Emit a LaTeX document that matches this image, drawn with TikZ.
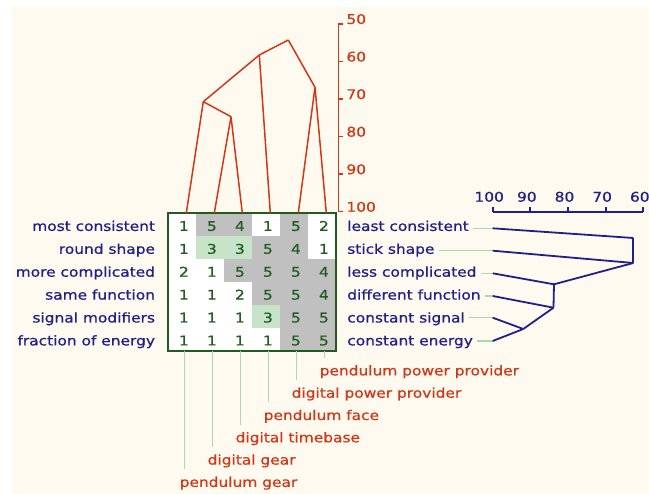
\documentclass[tikz,border=0pt]{standalone}
\usepackage{fontspec}
\setmainfont{DejaVu Sans}[FakeStretch=1.15, FakeBold=0.8]
\usetikzlibrary{matrix}
\usetikzlibrary{positioning}

\definecolor{paper}{RGB}{255,250,240}
\definecolor{navy}{RGB}{32,32,136}
\definecolor{rust}{RGB}{208,56,24}
\definecolor{forest}{RGB}{32,92,32}
\definecolor{shade}{RGB}{192,192,192}
\definecolor{mint}{RGB}{200,228,200}
\definecolor{leaf}{RGB}{176,214,176}

\tikzset{
  txt/.style={font=\fontsize{13.4}{16}\selectfont, text height=12.5pt, text depth=0pt, inner sep=0pt},
  cell/.style={txt, text=forest, minimum width=28pt, minimum height=22.9pt, execute at begin node=\kern4pt},
  high/.style={fill=shade},
  med/.style={fill=mint},
  redline/.style={rust, line width=1.5pt},
  blueline/.style={navy, line width=1.8pt},
  leader/.style={leaf, line width=1.2pt},
}

\begin{document}
\begin{tikzpicture}[x=1pt,y=-1pt]
  \fill[white] (0,0) rectangle (649,494);
  \fill[paper] (12,7) rectangle (649,494);
  \useasboundingbox (0,0) rectangle (649,494);

  \matrix (m) [matrix of nodes, anchor=north west, inner sep=0pt, fill=white,
               nodes={cell}, column sep=0pt, row sep=0pt] at (167.7,213)
  {
    1 & |[high]| 5 & |[high]| 4 & 1 & |[high]| 5 & 2 \\
    1 & |[med]| 3 & |[med]| 3 & |[high]| 5 & |[high]| 4 & 1 \\
    2 & 1 & |[high]| 5 & |[high]| 5 & |[high]| 5 & |[high]| 4 \\
    1 & 1 & 2 & |[high]| 5 & |[high]| 5 & |[high]| 4 \\
    1 & 1 & 1 & |[med]| 3 & |[high]| 5 & |[high]| 5 \\
    1 & 1 & 1 & 1 & |[high]| 5 & |[high]| 5 \\};
  \draw[forest, line width=2pt] (m.north west) rectangle (m.south east);

  % row labels
  \foreach \j/\t in {1/most consistent, 2/round shape, 3/more complicated,
                     4/same function, 5/signal modifiers, 6/fraction of energy}
    \node[txt, text=navy, left=12.5pt of m-\j-1] (ll\j) {\t};
  \foreach \j/\t in {1/least consistent, 2/stick shape, 3/less complicated,
                     4/different function, 5/constant signal, 6/constant energy}
    \node[txt, text=navy, inner xsep=4pt, right=7pt of m-\j-6] (rl\j) {\t};

  % column labels
  \foreach \i/\d/\t in {1/129.85/pendulum gear, 2/107.55/digital gear,
                        3/85.25/digital timebase, 4/62.95/pendulum face,
                        5/40.65/digital power provider, 6/18.35/pendulum power provider}
  {
    \node[txt, text=rust, inner ysep=4.8pt, anchor=west] (cl\i)
      at ([xshift=-2.4pt, yshift=-\d]m-6-\i.south) {\t};
    \coordinate (e\i) at ([xshift=2.5pt]m-6-\i.south);
    \draw[leader] (e\i) -- (e\i |- cl\i.north);
  }

  % column tree
  \draw[redline] (338.3,24) -- (338.3,211.7);
  \foreach \v in {50,60,...,100}
    \draw[redline] (338.3,{24+(\v-50)*3.755}) -- ++(4.4,0)
      node[txt, text=rust, anchor=base west, inner xsep=3pt] {\v};
  \foreach \i in {1,...,6}
    \coordinate (t\i) at ([xshift=4.4pt]m-1-\i.north);
  \coordinate (k23) at (231,116.7);
  \coordinate (k123) at (203.3,101.7);
  \coordinate (k56) at (315,87.3);
  \coordinate (k1234) at (259.3,55);
  \coordinate (top) at (288.3,40);
  \path[redline]
    (t2) edge (k23)
    (t3) edge (k23)
    (t1) edge (k123)
    (k23) edge (k123)
    (t5) edge (k56)
    (t6) edge (k56)
    (t4) edge (k1234)
    (k123) edge (k1234)
    (k1234) edge (top)
    (k56) edge (top);

  % row tree
  \draw[blueline] (492.7,211.7) -- (643.3,211.7);
  \foreach \v in {100,90,...,60}
    \draw[blueline] ({492.7+(100-\v)*3.765},211.7) -- ++(0,-5)
      node[txt, text=navy, anchor=base, xshift=-3.5pt, yshift=5pt] {\v};
  \coordinate (b1) at (492.7,228.3);
  \coordinate (b2) at (492.7,250.7);
  \coordinate (b3) at (492.7,273.3);
  \coordinate (b4) at (492.7,296);
  \coordinate (b5) at (492.7,317.7);
  \coordinate (b6) at (492.7,341);
  \foreach \j in {1,...,6}
    \draw[leader] (rl\j.east |- b\j) -- (b\j);
  \coordinate (p1) at (633.3,238);
  \coordinate (p2) at (633.3,263);
  \coordinate (q) at (554,284.3);
  \coordinate (s) at (553.5,307.7);
  \coordinate (u) at (523.3,329);
  \path[blueline]
    (b1) edge (p1)
    (p1) edge (p2)
    (b2) edge (p2)
    (p2) edge (q)
    (b3) edge (q)
    (q) edge (s)
    (b4) edge (s)
    (b5) edge (u)
    (b6) edge (u)
    (u) edge (s);
\end{tikzpicture}
\end{document}
